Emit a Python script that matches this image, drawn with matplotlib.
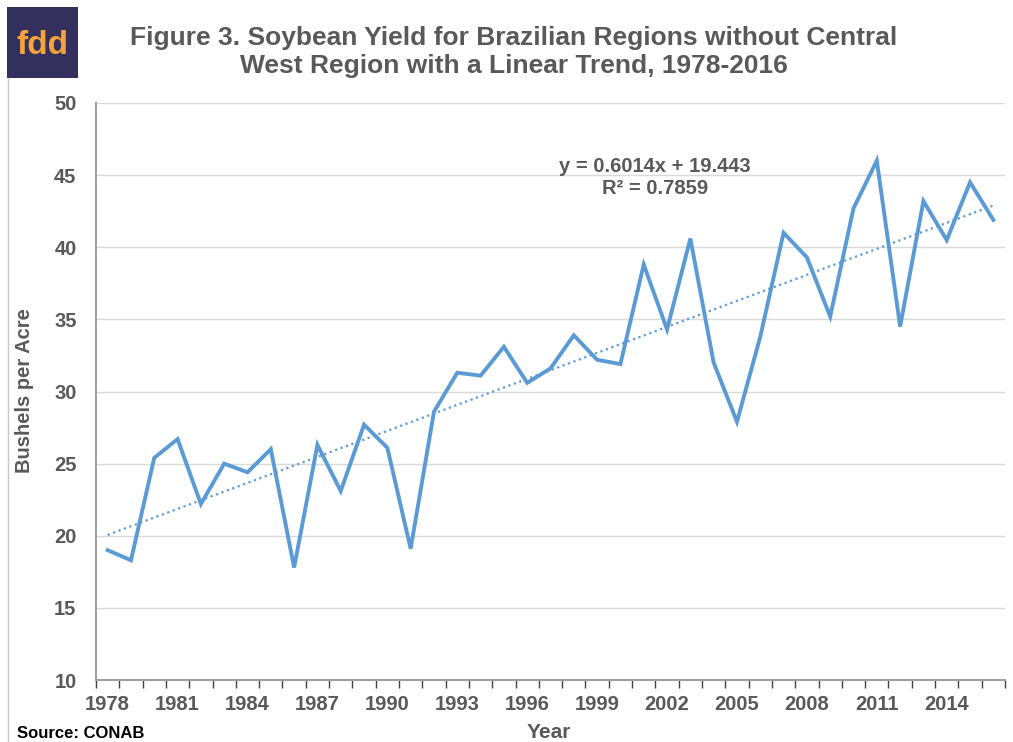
import numpy as np
import matplotlib
matplotlib.use("Agg")
import matplotlib.pyplot as plt
from matplotlib.patches import Rectangle
from matplotlib.lines import Line2D

plt.rcParams['font.family'] = ['Liberation Sans', 'DejaVu Sans']

years = list(range(1978, 2017))
yields = [19.0, 18.3, 25.4, 26.7, 22.2, 25.0, 24.4, 26.0, 17.8, 26.3,
          23.1, 27.7, 26.1, 19.1, 28.6, 31.3, 31.1, 33.1, 30.6, 31.6,
          33.9, 32.2, 31.9, 38.8, 34.3, 40.6, 32.0, 27.9, 33.8, 41.0,
          39.3, 35.2, 42.7, 46.0, 34.5, 43.2, 40.5, 44.5, 41.9]
yticks = [10, 15, 20, 25, 30, 35, 40, 45, 50]
label_years = list(range(1978, 2017, 3))

gray = '#595959'
blue = '#5b9bd5'

fig = plt.figure(figsize=(10.13, 7.42), dpi=100)
ax = fig.add_axes([96 / 1013, 1 - 680 / 742, (1005 - 96) / 1013, (680 - 103) / 742])

x = np.arange(len(years))
ax.plot(x, yields, color=blue, lw=2.8, solid_joinstyle='miter')
# linear trend fitted on the series (Excel style x = 1..n)
coef = np.polyfit(x + 1, yields, 1)
ax.plot(x, np.polyval(coef, x + 1), color=blue, lw=1.6, ls=(0, (1, 1.6)))

ax.set_xlim(-0.5, len(years) - 0.5)
ax.set_ylim(10, 50)
ax.set_yticks(yticks)
ax.yaxis.grid(True, color='#d9d9d9', lw=1)
ax.set_axisbelow(True)

ax.set_xticks([years.index(y) for y in label_years])
ax.set_xticklabels([str(y) for y in label_years])
ax.set_xticks(np.arange(-0.5, len(years)), minor=True)
ax.tick_params(axis='x', which='major', length=0, pad=11)
ax.tick_params(axis='x', which='minor', length=6, color='#404040', width=1)
ax.tick_params(axis='y', length=0, pad=14)
for lab in ax.get_xticklabels() + ax.get_yticklabels():
    lab.set_fontsize(14.5)
    lab.set_fontweight('bold')
    lab.set_color(gray)

for s in ['top', 'right']:
    ax.spines[s].set_visible(False)
ax.spines['left'].set_color('#a0a0a0')
ax.spines['left'].set_linewidth(1.5)
ax.spines['bottom'].set_color('#a0a0a0')
ax.spines['bottom'].set_linewidth(1.5)

fig.text(25 / 1013, 1 - 391 / 742, 'Bushels per Acre', fontsize=14.5, fontweight='bold',
         color=gray, rotation=90, ha='center', va='center')

fig.text(549 / 1013, 1 - 732 / 742, 'Year', fontsize=15, fontweight='bold', color=gray,
         ha='center', va='center')
fig.text(17 / 1013, 1 - 733 / 742, 'Source: CONAB', fontsize=12, fontweight='bold',
         color='black', ha='left', va='center')

fig.text(514 / 1013, 1 - 52 / 742,
         'Figure 3. Soybean Yield for Brazilian Regions without Central\nWest Region with a Linear Trend, 1978-2016',
         fontsize=19, fontweight='bold', color=gray, ha='center', va='center', linespacing=1.22)

fig.text(655 / 1013, 1 - 177 / 742, 'y = 0.6014x + 19.443\nR² = 0.7859', fontsize=14.5,
         fontweight='bold', color=gray, ha='center', va='center', linespacing=1.2)

# logo and frame edge
fig.patches.append(Rectangle((7 / 1013, 1 - 78 / 742), 71 / 1013, 71 / 742,
                             transform=fig.transFigure, facecolor='#33305e',
                             edgecolor='none', zorder=0))
fig.lines.append(Line2D([7.5 / 1013, 7.5 / 1013], [0, 1 - 78 / 742], transform=fig.transFigure,
                        color='#c8c8c8', lw=1))
fig.text(42 / 1013, 1 - 45 / 742, 'fdd', fontsize=24, fontweight='bold',
         color='#f6a33b', ha='center', va='center')

fig.savefig('out.png', dpi=100)
